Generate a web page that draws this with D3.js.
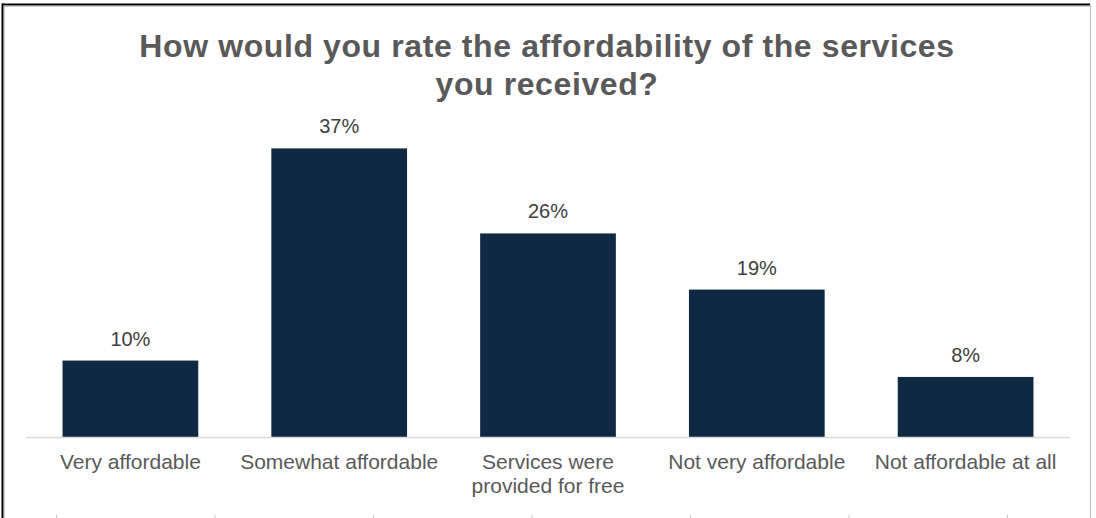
<!DOCTYPE html>
<html>
<head>
<meta charset="utf-8">
<script src="https://cdn.jsdelivr.net/npm/d3@7"></script>
<style>
  html, body { margin: 0; padding: 0; background: #ffffff; }
  svg { display: block; }
  text { font-family: "Liberation Sans", Arial, sans-serif; }
</style>
</head>
<body>
<svg id="chart" width="1096" height="518"></svg>
<script>
// ---- data ----
const titleLines = ["How would you rate the affordability of the services", "you received?"];
const categories = ["Very affordable", "Somewhat affordable", "Services were provided for free", "Not very affordable", "Not affordable at all"];
const values = [9.8, 37.0, 26.1, 18.9, 7.7];
const valueLabels = ["10%", "37%", "26%", "19%", "8%"];

// ---- layout ----
const W = 1096, H = 518;
const svg = d3.select("#chart");

// frame
svg.append("rect").attr("x", 0).attr("y", 0).attr("width", W).attr("height", H).attr("fill", "#ffffff");
svg.append("line").attr("x1", 2).attr("x2", 1090).attr("y1", 4.5).attr("y2", 4.5).attr("stroke", "#000").attr("stroke-width", 2);
svg.append("line").attr("x1", 2).attr("x2", 1090).attr("y1", 6).attr("y2", 6).attr("stroke", "#9a9a9a").attr("stroke-width", 1);
svg.append("line").attr("x1", 2.5).attr("x2", 2.5).attr("y1", 3.5).attr("y2", H).attr("stroke", "#000").attr("stroke-width", 2);
svg.append("line").attr("x1", 4).attr("x2", 4).attr("y1", 5).attr("y2", H).attr("stroke", "#9a9a9a").attr("stroke-width", 1);
svg.append("line").attr("x1", 1090.5).attr("x2", 1090.5).attr("y1", 5).attr("y2", H).attr("stroke", "#bdbdbd").attr("stroke-width", 1);

// faint marks along the bottom edge
svg.append("g").selectAll("line").data(d3.range(7)).join("line")
  .attr("x1", i => 56.5 + i * 158.5).attr("x2", i => 56.5 + i * 158.5)
  .attr("y1", 515).attr("y2", 518).attr("stroke", "#c8c8c8").attr("stroke-width", 1);

// title
svg.append("text")
  .attr("x", 547).attr("y", 57)
  .attr("text-anchor", "middle")
  .attr("font-size", 32).attr("font-weight", "bold")
  .attr("letter-spacing", "0.6px")
  .attr("fill", "#595959")
  .selectAll("tspan").data(titleLines).join("tspan")
  .attr("x", 547).attr("dy", (d, i) => i === 0 ? 0 : 38)
  .text(d => d);

// scales
const x = d3.scaleBand().domain(categories).range([26, 1070]).paddingInner(0.35).paddingOuter(0.175);
const y = d3.scaleLinear().domain([0, 40]).range([437, 125]);

// bars
svg.append("g").selectAll("rect").data(values).join("rect")
  .attr("x", (d, i) => x(categories[i]))
  .attr("width", x.bandwidth())
  .attr("y", d => y(d))
  .attr("height", d => y(0) - y(d))
  .attr("fill", "#0e2941");

// axis
const axis = svg.append("g").attr("transform", `translate(0,${y(0)})`)
  .call(d3.axisBottom(x).tickSize(0).tickPadding(0));
axis.select(".domain").attr("stroke", "#d9d9d9").attr("stroke-width", 1.3).attr("d", "M26,0.5H1070");
axis.selectAll(".tick text").remove();

// wrapped category labels
const labelG = svg.append("g");
categories.forEach((c, i) => {
  const t = labelG.append("text")
    .attr("x", x(c) + x.bandwidth() / 2)
    .attr("y", 469)
    .attr("text-anchor", "middle")
    .attr("font-size", 21)
    .attr("fill", "#595959");
  const words = c.split(" ");
  let line = [], lines = [];
  const probe = t.append("tspan");
  words.forEach(w => {
    line.push(w);
    probe.text(line.join(" "));
    if (probe.node().getComputedTextLength() > x.step() - 2 && line.length > 1) {
      line.pop();
      lines.push(line.join(" "));
      line = [w];
    }
  });
  lines.push(line.join(" "));
  probe.remove();
  lines.forEach((l, k) => {
    t.append("tspan").attr("x", x(c) + x.bandwidth() / 2).attr("dy", k === 0 ? 0 : 24).text(l);
  });
});

// value labels
svg.append("g").selectAll("text").data(values).join("text")
  .attr("x", (d, i) => x(categories[i]) + x.bandwidth() / 2)
  .attr("y", d => y(d) - 15)
  .attr("text-anchor", "middle")
  .attr("font-size", 20)
  .attr("fill", "#404040")
  .text((d, i) => valueLabels[i]);
</script>
</body>
</html>
